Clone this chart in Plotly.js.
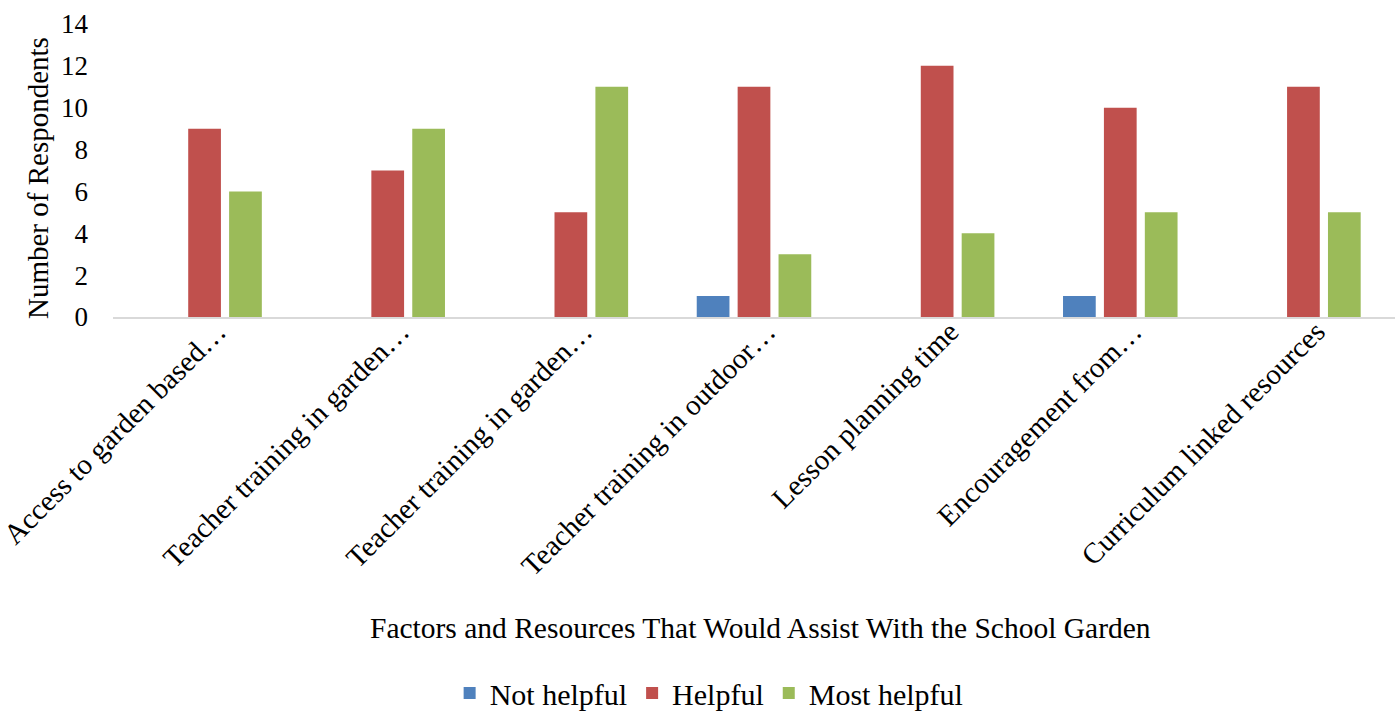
<!DOCTYPE html>
<html>
<head>
<meta charset="utf-8">
<script src="https://cdn.plot.ly/plotly-3.0.1.min.js"></script>
<style>html,body{margin:0;padding:0;background:#fff;}#chart{width:1395px;height:711px;}</style>
</head>
<body>
<div id="chart"></div>
<script>
const categories = [
  "Access to garden based…",
  "Teacher training in garden…",
  "Teacher training in garden…",
  "Teacher training in outdoor…",
  "Lesson planning time",
  "Encouragement from…",
  "Curriculum linked resources"
];
const notHelpful = [0, 0, 0, 1, 0, 1, 0];
const helpful = [9, 7, 5, 11, 12, 10, 11];
const mostHelpful = [6, 9, 11, 3, 4, 5, 5];
const yTicks = [0, 2, 4, 6, 8, 10, 12, 14];

const idx = categories.map((c, i) => i);
const font = "Liberation Serif, Times New Roman, serif";

const mk = (name, y, color) => ({
  type: "bar", name: name, x: idx, y: y,
  marker: {color: color, line: {width: 0}},
  hoverinfo: "x+y+name"
});

const data = [
  mk("Not helpful", notHelpful, "#4F81BD"),
  mk("Helpful", helpful, "#C0504D"),
  mk("Most helpful", mostHelpful, "#9BBB59")
];

const plotTop = 24, plotBottom = 317, plotH = plotBottom - plotTop;
const py = (pix) => (plotBottom - pix) / plotH;

const layout = {
  width: 1395, height: 711,
  margin: {l: 113, r: 0, t: plotTop, b: 711 - plotBottom, autoexpand: false},
  paper_bgcolor: "#fff", plot_bgcolor: "#fff",
  font: {family: font, size: 28, color: "#000"},
  barmode: "group", bargap: 0.33, bargroupgap: 0.2,
  showlegend: true,
  legend: {orientation: "h", x: 0.465, xanchor: "center", y: py(693), yanchor: "middle",
           font: {family: font, size: 30, color: "#000"}, itemwidth: 30, traceorder: "normal"},
  xaxis: {
    tickmode: "array", tickvals: idx, ticktext: categories,
    range: [-0.5, categories.length - 0.5],
    tickangle: -45, showline: true, linecolor: "#D9D9D9", linewidth: 2,
    showgrid: false, zeroline: false, ticks: "", automargin: false,
    ticklabeloverflow: "allow", ticklabelshift: 13, ticklabelstandoff: -16,
    tickfont: {family: font, size: 29, color: "#000"}
  },
  yaxis: {
    range: [0, 14], tickmode: "array", tickvals: yTicks, automargin: false,
    showgrid: false, zeroline: false, showline: false, ticks: "",
    ticklabelstandoff: 24,
    tickfont: {family: font, size: 27, color: "#000"}
  },
  annotations: [
    {text: "Factors and Resources That Would Assist With the School Garden",
     xref: "paper", yref: "paper", x: 0.505, y: py(628), xanchor: "center", yanchor: "middle",
     showarrow: false, font: {family: font, size: 29.5, color: "#000"}},
    {text: "Number of Respondents", textangle: -90,
     xref: "paper", yref: "paper", x: -0.0585, y: py(178), xanchor: "center", yanchor: "middle",
     showarrow: false, font: {family: font, size: 29, color: "#000"}}
  ]
};

Plotly.newPlot("chart", data, layout, {displayModeBar: false, staticPlot: true});
</script>
</body>
</html>
